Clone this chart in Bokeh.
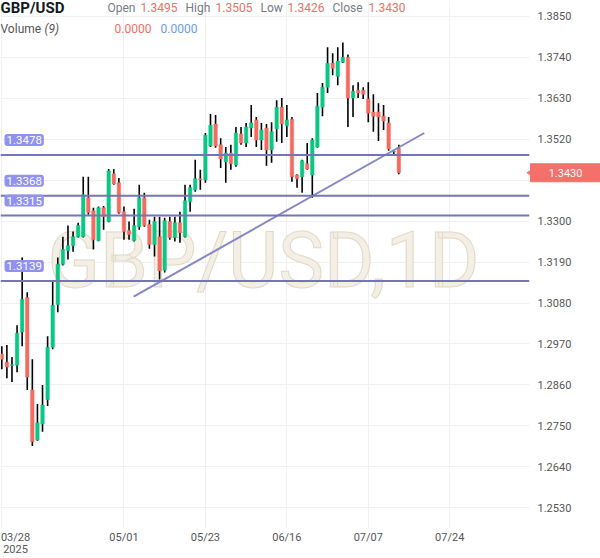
import math
from bokeh.plotting import figure
from bokeh.models import ColumnDataSource, Range1d, FixedTicker, PrintfTickFormatter, Span, Label
from bokeh.core.properties import value
from bokeh.embed import file_html
from bokeh.resources import INLINE

# ---- data ----
opens = [1.2943, 1.2921, 1.2912, 1.2913, 1.3002, 1.3095, 1.2846, 1.2712, 1.2755, 1.2820,
         1.2961, 1.3076, 1.3184, 1.3221, 1.3234, 1.3258, 1.3258, 1.3363, 1.3328, 1.3248,
         1.3336, 1.3299, 1.3427, 1.3403, 1.3325, 1.3275, 1.3248, 1.3285, 1.3363, 1.3291,
         1.3237, 1.3258, 1.3168, 1.3299, 1.3256, 1.3296, 1.3258, 1.3352, 1.3384, 1.3414,
         1.3411, 1.3502, 1.3561, 1.3505, 1.3459, 1.3483, 1.3451, 1.3534, 1.3510, 1.3550,
         1.3572, 1.3518, 1.3550, 1.3491, 1.3548, 1.3606, 1.3556, 1.3574, 1.3424, 1.3419,
         1.3454, 1.3424, 1.3499, 1.3606, 1.3660, 1.3724, 1.3689, 1.3727, 1.3740, 1.3631,
         1.3652, 1.3652, 1.3628, 1.3593, 1.3593, 1.3582, 1.3564, 1.3486, 1.3495]
highs = [1.2964, 1.2967, 1.2935, 1.3020, 1.3202, 1.3109, 1.2929, 1.2809, 1.2860, 1.2991,
         1.3138, 1.3202, 1.3258, 1.3288, 1.3272, 1.3296, 1.3419, 1.3419, 1.3336, 1.3339,
         1.3341, 1.3440, 1.3440, 1.3416, 1.3339, 1.3299, 1.3333, 1.3398, 1.3376, 1.3304,
         1.3312, 1.3312, 1.3309, 1.3312, 1.3312, 1.3325, 1.3398, 1.3398, 1.3465, 1.3438,
         1.3537, 1.3588, 1.3585, 1.3523, 1.3499, 1.3505, 1.3553, 1.3553, 1.3564, 1.3612,
         1.3580, 1.3564, 1.3561, 1.3566, 1.3625, 1.3631, 1.3612, 1.3580, 1.3426, 1.3465,
         1.3510, 1.3523, 1.3644, 1.3671, 1.3767, 1.3751, 1.3767, 1.3780, 1.3748, 1.3665,
         1.3673, 1.3660, 1.3673, 1.3641, 1.3617, 1.3612, 1.3580, 1.3491, 1.3505]
lows = [1.2902, 1.2878, 1.2868, 1.2894, 1.2964, 1.2846, 1.2696, 1.2710, 1.2734, 1.2803,
        1.2956, 1.3055, 1.3181, 1.3197, 1.3218, 1.3256, 1.3256, 1.3317, 1.3224, 1.3246,
        1.3277, 1.3297, 1.3398, 1.3320, 1.3250, 1.3250, 1.3245, 1.3277, 1.3285, 1.3226,
        1.3205, 1.3143, 1.3162, 1.3250, 1.3245, 1.3242, 1.3256, 1.3325, 1.3379, 1.3384,
        1.3403, 1.3499, 1.3497, 1.3443, 1.3403, 1.3438, 1.3446, 1.3505, 1.3499, 1.3526,
        1.3499, 1.3491, 1.3449, 1.3457, 1.3513, 1.3510, 1.3526, 1.3406, 1.3390, 1.3376,
        1.3438, 1.3363, 1.3497, 1.3582, 1.3644, 1.3692, 1.3665, 1.3725, 1.3553, 1.3580,
        1.3631, 1.3628, 1.3566, 1.3540, 1.3515, 1.3545, 1.3489, 1.3475, 1.3426]
closes = [1.2929, 1.2908, 1.2914, 1.2999, 1.3090, 1.2881, 1.2707, 1.2758, 1.2806, 1.2961,
          1.3074, 1.3184, 1.3224, 1.3234, 1.3258, 1.3288, 1.3371, 1.3323, 1.3250, 1.3336,
          1.3312, 1.3435, 1.3400, 1.3323, 1.3272, 1.3264, 1.3288, 1.3363, 1.3288, 1.3237,
          1.3299, 1.3167, 1.3301, 1.3256, 1.3296, 1.3269, 1.3355, 1.3390, 1.3414, 1.3411,
          1.3531, 1.3558, 1.3502, 1.3467, 1.3483, 1.3454, 1.3537, 1.3510, 1.3553, 1.3564,
          1.3518, 1.3545, 1.3491, 1.3540, 1.3606, 1.3561, 1.3572, 1.3419, 1.3414, 1.3462,
          1.3440, 1.3518, 1.3609, 1.3660, 1.3724, 1.3711, 1.3730, 1.3740, 1.3631, 1.3649,
          1.3644, 1.3641, 1.3590, 1.3582, 1.3580, 1.3569, 1.3494, 1.3488, 1.3430]

grid_idx = [0, 24, 40, 56, 72, 88]
x_tick_labels = ["03/28\n2025", "05/01", "05/23", "06/16", "07/07", "07/24"]
y_ticks = [1.2530, 1.2640, 1.2750, 1.2860, 1.2970, 1.3080, 1.3190, 1.3300,
           1.3410, 1.3520, 1.3630, 1.3740, 1.3850]
hidden_y_tick = 1.3410    # covered by the price tag in the original
levels = [1.3478, 1.3368, 1.3315, 1.3139]
level_labels = ["1.3478", "1.3368", "1.3315", "1.3139"]
trend_x = [25.9, 83.0]
trend_y = [1.30969, 1.35368]
last_price = 1.3430

symbol = "GBP/USD"
ohlc_names = ["Open", "High", "Low", "Close"]
ohlc_values = ["1.3495", "1.3505", "1.3426", "1.3430"]

GREEN = "#0bc784"
RED = "#f46b62"
LEVEL = "#7474b8"
FONT = "Roboto"
FIRST_LABEL_SHIFT = 2.7   # first date label is pushed right so it stays inside
X0, X1 = -0.255, 103.67   # x range (bar index)
TAG_X = 110.75            # price tag centre, right of the frame (bar-index units)
NOTCH_X = 103.95

idx = list(range(len(opens)))
colors = [GREEN if c >= o else RED for o, c in zip(opens, closes)]
src = ColumnDataSource(dict(
    x=idx, o=opens, h=highs, l=lows, c=closes,
    top=[max(o, c) for o, c in zip(opens, closes)],
    bot=[min(o, c) for o, c in zip(opens, closes)],
    color=colors))

p = figure(width=600, height=558, output_backend="svg", toolbar_location=None,
           x_range=Range1d(X0, X1), y_range=Range1d(1.24742, 1.38928),
           y_axis_location="right", min_border_left=0, min_border_top=0,
           min_border_right=71, min_border_bottom=28)
p.outline_line_color = None
p.background_fill_color = "white"
p.border_fill_color = "white"

# axes
axis_ticks = [grid_idx[0] + FIRST_LABEL_SHIFT] + grid_idx[1:]
p.xaxis.ticker = FixedTicker(ticks=axis_ticks)
p.xaxis.major_label_overrides = {t: s for t, s in zip(axis_ticks, x_tick_labels)}
p.xgrid.ticker = FixedTicker(ticks=grid_idx)
p.yaxis.ticker = FixedTicker(ticks=y_ticks)
p.yaxis.formatter = PrintfTickFormatter(format="%.4f")
p.yaxis.major_label_overrides = {hidden_y_tick: ""}
for ax in (p.xaxis[0], p.yaxis[0]):
    ax.axis_line_color = None
    ax.major_tick_line_color = None
    ax.minor_tick_line_color = None
    ax.major_tick_out = 0
    ax.major_tick_in = 0
    ax.minor_tick_out = 0
    ax.major_label_text_font = FONT
    ax.major_label_text_font_size = "11px"
    ax.major_label_text_color = "#555555"
    ax.major_label_text_line_height = 0.95
p.xaxis.major_label_standoff = 2
p.yaxis.major_label_standoff = 8
p.xgrid.grid_line_color = "#f0f0f0"
p.ygrid.grid_line_color = "#f0f0f0"

# watermark
p.add_layout(Label(x=263, y=268, x_units="screen", y_units="screen", text="GBP/USD,1D",
                   text_font=FONT, text_font_size="77px", text_color="#f3efe6",
                   text_outline_color="#e2d9c6",
                   text_align="center", text_baseline="middle", level="underlay"))

# candles
p.segment(x0="x", y0="l", x1="x", y1="h", source=src, line_color="black", line_width=1.6)
p.vbar(x="x", top="top", bottom="bot", width=0.68, source=src,
       fill_color="color", line_color="color", line_width=0.5)

# level lines + labels
for lv, lab in zip(levels, level_labels):
    p.add_layout(Span(location=lv, dimension="width", line_color=LEVEL, line_width=2))
    p.add_layout(Label(x=4, y=lv, x_units="screen", y_offset=15, text=lab,
                       text_font=FONT, text_font_size="11.5px", text_color="white",
                       text_baseline="middle", background_fill_color="#9191f2",
                       padding=dict(x=2, y=2), border_radius=3))

# trend line
p.line(trend_x, trend_y, line_color="#7f7fc8", line_width=2, line_alpha=0.95)

# current price tag beside the price axis (overlay level so it is not clipped)
p.rect(x=[TAG_X], y=[last_price], width=70, height=18, width_units="screen",
       height_units="screen", fill_color="#f3716a", line_color="#f3716a", level="overlay")
p.scatter(x=[NOTCH_X], y=[last_price], marker="triangle", size=7, angle=math.pi / 2,
          fill_color="#f3716a", line_color="#f3716a", level="overlay")
p.text(x=[TAG_X], y=[last_price], text=[f"{last_price:.4f}"], text_font=value(FONT),
       text_font_size="11px", text_color="white", text_align="center",
       text_baseline="middle", level="overlay")

# header
TOP = 530
def lab(x, y, t, color="#787b86", size="12px", style="normal"):
    p.add_layout(Label(x=x, y=TOP - y, x_units="screen", y_units="screen", text=t,
                       text_font=FONT, text_font_size=size, text_color=color,
                       text_font_style=style, text_baseline="middle"))

lab(0, 9, symbol, color="#131722", size="15px", style="bold")
xs_names = [107, 185, 260, 332]
xs_vals = [140, 215, 287, 368]
for xn, xv, n, v in zip(xs_names, xs_vals, ohlc_names, ohlc_values):
    lab(xn, 9, n)
    lab(xv, 9, v, color="#ef6f66")
lab(0, 30, "Volume", color="#555555")
lab(44, 30, "(9)", color="#555555", style="italic")
lab(114, 30, "0.0000", color="#ef6f66")
lab(160, 30, "0.0000", color="#6b9bea")

open("out.html", "w").write(file_html(p, INLINE))
